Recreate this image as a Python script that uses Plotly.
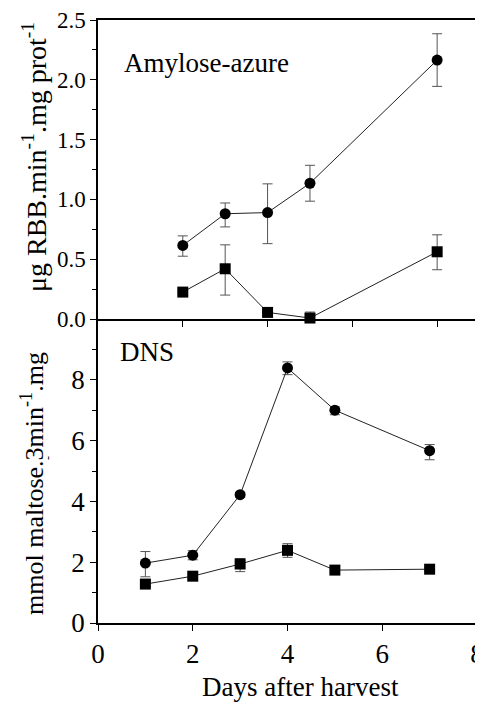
import plotly.graph_objects as go

# ---- Top panel (Amylose-azure) ----
top_days = [1, 2, 3, 4, 7]
top_circle = [0.615, 0.88, 0.89, 1.135, 2.165]
top_circle_hi = [0.08, 0.09, 0.24, 0.15, 0.22]
top_circle_lo = [0.09, 0.11, 0.26, 0.15, 0.22]
top_square = [0.225, 0.42, 0.055, 0.008, 0.562]
top_square_hi = [0.0, 0.20, 0.0, 0.05, 0.142]
top_square_lo = [0.0, 0.22, 0.0, 0.0, 0.15]

# ---- Bottom panel (DNS) ----
bot_days = [1, 2, 3, 4, 5, 7]
bot_circle = [1.97, 2.23, 4.22, 8.39, 7.0, 5.67]
bot_circle_hi = [0.38, 0.15, 0.08, 0.2, 0.11, 0.2]
bot_circle_lo = [0.45, 0.15, 0.08, 0.22, 0.15, 0.3]
bot_square = [1.28, 1.54, 1.94, 2.39, 1.74, 1.77]
bot_square_hi = [0.08, 0.08, 0.18, 0.22, 0.06, 0.06]
bot_square_lo = [0.08, 0.08, 0.25, 0.23, 0.06, 0.06]

top_yticks = [0.0, 0.5, 1.0, 1.5, 2.0, 2.5]
top_ytick_labels = ["0.0", "0.5", "1.0", "1.5", "2.0", "2.5"]
bot_yticks = [0, 2, 4, 6, 8]
bot_xticks = [0, 2, 4, 6, 8]

FONT = "Liberation Serif"
LINE = "#222222"
ERR = "#555555"

# page offset (body margin) compensation
OFF = 8
W, H = 483, 703
# plot area in page pixels
PL, PR, PT, PB = 98, 477, 20, 623
L = PL - OFF
T = PT - OFF
R = W - (PR - OFF)
B = H - (PB - OFF)
PW, PH = PR - PL, PB - PT

def px(xp):
    return (xp - PL) / PW

def py(yp):
    return 1 - (yp - PT) / PH

fig = go.Figure()

def add_series(x, y, hi, lo, symbol, size, xa, ya):
    fig.add_trace(go.Scatter(
        x=x, y=y, mode="lines+markers", xaxis=xa, yaxis=ya,
        line=dict(color=LINE, width=1),
        marker=dict(symbol=symbol, size=size, color="black"),
        error_y=dict(type="data", symmetric=False, array=hi, arrayminus=lo,
                     color=ERR, thickness=1, width=5),
        showlegend=False, cliponaxis=False))

add_series(top_days, top_circle, top_circle_hi, top_circle_lo, "circle", 11, "x2", "y2")
add_series(top_days, top_square, top_square_hi, top_square_lo, "square", 11, "x2", "y2")
add_series(bot_days, bot_circle, bot_circle_hi, bot_circle_lo, "circle", 11, "x", "y")
add_series(bot_days, bot_square, bot_square_hi, bot_square_lo, "square", 11, "x", "y")

split = (PB - 319) / PH

axis_common = dict(ticks="outside", ticklen=6, tickwidth=1, tickcolor="black",
                   showline=True, linecolor="black", linewidth=1.5,
                   showgrid=False, zeroline=False, automargin=False)

fig.update_layout(
    width=W, height=H,
    margin=dict(l=L, r=R, t=T, b=B),
    paper_bgcolor="white", plot_bgcolor="white",
    font=dict(family=FONT, color="black", size=20),
    xaxis=dict(domain=[0, 1], range=[0, 8], tickvals=bot_xticks, mirror=False,
               tickfont=dict(size=27, family=FONT), **axis_common),
    yaxis=dict(domain=[0, split], range=[0, 10], tickvals=bot_yticks, mirror=True,
               minor=dict(tickvals=[1, 3, 5, 7, 9], ticks="outside", ticklen=4, tickcolor="black"),
               tickfont=dict(size=27, family=FONT), **axis_common),
    xaxis2=dict(domain=[0, 1], anchor="y2", range=[-1.0, 7.94], tickvals=[1, 3, 5, 7],
                showticklabels=False, mirror=True, **axis_common),
    yaxis2=dict(domain=[split, 1], anchor="x2", range=[0, 2.5], tickvals=top_yticks,
                ticktext=top_ytick_labels, mirror=True,
                minor=dict(tickvals=[0.25, 0.75, 1.25, 1.75, 2.25], ticks="outside", ticklen=4, tickcolor="black"),
                tickfont=dict(size=23, family=FONT), **axis_common),
    annotations=[
        dict(text="Amylose-azure", xref="paper", yref="paper", x=px(122), y=py(63),
             xanchor="left", yanchor="middle", showarrow=False, font=dict(size=27, family=FONT)),
        dict(text="DNS", xref="paper", yref="paper", x=px(118), y=py(352),
             xanchor="left", yanchor="middle", showarrow=False, font=dict(size=27, family=FONT)),
        dict(text="Days after harvest", xref="paper", yref="paper", x=px(300), y=py(687),
             xanchor="center", yanchor="middle", showarrow=False, font=dict(size=27, family=FONT)),
        dict(text="μg RBB.min<sup>-1</sup>.mg prot<sup>-1</sup>", xref="paper", yref="paper",
             x=px(35), y=py(157), xanchor="center", yanchor="middle", textangle=-90,
             showarrow=False, font=dict(size=28, family=FONT)),
        dict(text="mmol maltose.3min<sup>-1</sup>.mg", xref="paper", yref="paper",
             x=px(32), y=py(484), xanchor="center", yanchor="middle", textangle=-90,
             showarrow=False, font=dict(size=26, family=FONT)),
        dict(text="-", xref="paper", yref="paper", x=px(48), y=py(458),
             xanchor="center", yanchor="middle", showarrow=False, textangle=-90,
             font=dict(size=12, family=FONT)),
    ],
)

fig.write_html("out.html")
